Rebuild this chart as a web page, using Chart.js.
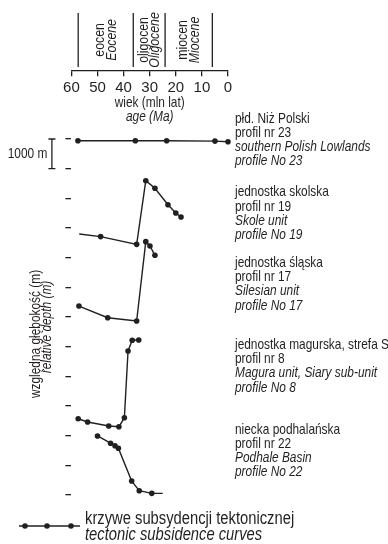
<!DOCTYPE html>
<html>
<head>
<meta charset="utf-8">
<script src="https://cdn.jsdelivr.net/npm/chart.js@4/dist/chart.umd.min.js"></script>
<style>
  html, body { margin: 0; padding: 0; background: #fff; }
  canvas { display: block; }
</style>
</head>
<body>
<canvas id="chart" width="388" height="544"></canvas>
<script>
// ---- data -------------------------------------------------------------
// age axis (Ma), drawn reversed: 60 on the left, 0 on the right
const ageTicks = [60, 50, 40, 30, 20, 10, 0];
// relative depth axis (m): one tick every 1000 m
const depthTicks = [0, 1000, 2000, 3000, 4000, 5000, 6000, 7000, 8000, 9000, 10000, 11000, 12000];

// epoch boundaries (Ma) and epoch names
const epochBounds = [57.4, 36.3, 24.1, 6.0];
const epochPl = ['eocen', 'oligocen', 'miocen'];
const epochEn = ['Eocene', 'Oligocene', 'Miocene'];

// tectonic subsidence curves: age (Ma), relative depth (m), 1 = dot drawn
const p23Age   = [57.5, 35.5, 23.5, 5.0, 0.0];
const p23Depth = [60, 60, 60, 70, 90];
const p23Dots  = [1, 1, 1, 1, 1];

const p19Age   = [57.0, 48.8, 35.0, 31.5, 28.0, 23.0, 20.0, 18.0];
const p19Depth = [3200, 3290, 3550, 1405, 1660, 2215, 2495, 2630];
const p19Dots  = [0, 1, 1, 1, 1, 1, 1, 1];

const p17Age   = [57.1, 46.1, 35.0, 31.5, 29.9, 28.0];
const p17Depth = [5630, 6025, 6135, 3460, 3605, 3920];
const p17Dots  = [1, 1, 1, 1, 1, 1];

const p8Age    = [57.4, 53.8, 45.7, 41.8, 39.7, 38.3, 36.7, 34.2];
const p8Depth  = [9430, 9540, 9675, 9700, 9395, 7145, 6785, 6775];
const p8Dots   = [1, 1, 1, 1, 1, 1, 1, 1];

const p22Age   = [50.0, 45.0, 43.3, 42.0, 36.9, 34.0, 29.2, 25.0];
const p22Depth = [10010, 10255, 10340, 10425, 11530, 11855, 11945, 11945];
const p22Dots  = [1, 1, 1, 1, 1, 1, 1, 0];

// profile descriptions (Polish / English)
const profileLabels = [
  ['płd. Niż Polski', 'profil nr 23', 'southern Polish Lowlands', 'profile No 23'],
  ['jednostka skolska', 'profil nr 19', 'Skole unit', 'profile No 19'],
  ['jednostka śląska', 'profil nr 17', 'Silesian unit', 'profile No 17'],
  ['jednostka magurska, strefa Siar', 'profil nr 8', 'Magura unit, Siary sub-unit', 'profile No 8'],
  ['niecka podhalańska', 'profil nr 22', 'Podhale Basin', 'profile No 22']
];
const scaleBarLabel = '1000 m';
const legendPl = 'krzywe subsydencji tektonicznej';
const legendEn = 'tectonic subsidence curves';

// ---- styling / placement ----------------------------------------------
const INK = '#231f20';
const FONT = "'Liberation Sans', Arial, sans-serif";
const SQUEEZE = 0.82;                  // condensed lettering
const AXIS_AT = -2292;                 // depth value where the age axis sits
const EPOCH_TOP = -4250, EPOCH_BOTTOM = -2430;
const LABEL_ANCHORS = [-680, 1800, 4180, 6945, 9800];  // first line of each description
const LINE_H = 14.2;

function pts(ages, depths) {
  return ages.map((a, i) => ({ x: a, y: depths[i] }));
}
function curve(ages, depths, dots) {
  return {
    data: pts(ages, depths),
    showLine: true,
    borderColor: INK,
    borderWidth: 1.4,
    backgroundColor: INK,
    pointRadius: dots.map(d => d ? 2.8 : 0),
    pointBorderWidth: 0,
    pointHoverRadius: 0,
    tension: 0,
    clip: false
  };
}
function epochLine(age) {
  return {
    data: [{ x: age, y: EPOCH_TOP }, { x: age, y: EPOCH_BOTTOM }],
    showLine: true,
    borderColor: INK,
    borderWidth: 1.3,
    pointRadius: 0,
    clip: false
  };
}

// condensed text: squeeze horizontally around the anchor point
function text(ctx, s, x, y, size, italic, align, rot) {
  ctx.save();
  ctx.translate(x, y);
  if (rot) ctx.rotate(rot);
  ctx.scale(SQUEEZE, 1);
  ctx.font = (italic ? 'italic ' : '') + size + 'px ' + FONT;
  ctx.textAlign = align || 'left';
  ctx.textBaseline = 'middle';
  ctx.fillText(s, 0, 0);
  ctx.restore();
}

const annotations = {
  id: 'annotations',
  afterDatasetsDraw(chart) {
    const { ctx, chartArea, scales: { x, y } } = chart;
    ctx.save();
    ctx.fillStyle = INK;
    ctx.strokeStyle = INK;

    // age axis title
    const axisY = y.getPixelForValue(AXIS_AT);
    const midX = x.getPixelForValue(30);
    text(ctx, 'wiek (mln lat)', midX, axisY + 32, 14.5, false, 'center');
    text(ctx, 'age (Ma)', midX, axisY + 46, 14.5, true, 'center');

    // epoch names, rotated between the boundaries
    const epochMidY = (y.getPixelForValue(EPOCH_TOP) + y.getPixelForValue(EPOCH_BOTTOM)) / 2;
    for (let i = 0; i < epochPl.length; i++) {
      const cx = (x.getPixelForValue(epochBounds[i]) + x.getPixelForValue(epochBounds[i + 1])) / 2;
      text(ctx, epochPl[i], cx - 5.5, epochMidY, 15, false, 'center', -Math.PI / 2);
      text(ctx, epochEn[i], cx + 6, epochMidY, 15, true, 'center', -Math.PI / 2);
    }

    // depth axis title
    text(ctx, 'względna głębokość (m)', chartArea.left - 35.5, 334, 14.5, false, 'center', -Math.PI / 2);
    text(ctx, 'relative depth (m)', chartArea.left - 24.5, 327, 14.5, true, 'center', -Math.PI / 2);

    // 1000 m scale bar
    const barX = chartArea.left - 19.5;
    const b0 = y.getPixelForValue(0), b1 = y.getPixelForValue(1000);
    ctx.lineWidth = 1.3;
    ctx.beginPath();
    ctx.moveTo(barX, b0); ctx.lineTo(barX, b1);
    ctx.moveTo(barX - 3.5, b0); ctx.lineTo(barX + 3.5, b0);
    ctx.moveTo(barX - 3.5, b1); ctx.lineTo(barX + 3.5, b1);
    ctx.stroke();
    text(ctx, scaleBarLabel, barX - 4.5, (b0 + b1) / 2, 14.5, false, 'right');

    // profile descriptions
    const textX = chartArea.right + 7;
    profileLabels.forEach((lines, k) => {
      const top = y.getPixelForValue(LABEL_ANCHORS[k]);
      lines.forEach((s, j) => text(ctx, s, textX, top + j * LINE_H, 14.5, j >= 2, 'left'));
    });

    // legend
    const ly = 526;
    ctx.lineWidth = 1.4;
    ctx.beginPath();
    ctx.moveTo(19, ly); ctx.lineTo(80, ly);
    ctx.stroke();
    [25, 47, 71].forEach(px => {
      ctx.beginPath(); ctx.arc(px, ly, 2.8, 0, Math.PI * 2); ctx.fill();
    });
    text(ctx, legendPl, 85, 519, 18, false, 'left');
    text(ctx, legendEn, 85, 535, 18, true, 'left');

    ctx.restore();
  }
};

Chart.defaults.font.family = FONT;
Chart.defaults.color = INK;

new Chart(document.getElementById('chart'), {
  type: 'scatter',
  data: {
    datasets: [
      curve(p23Age, p23Depth, p23Dots),
      curve(p19Age, p19Depth, p19Dots),
      curve(p17Age, p17Depth, p17Dots),
      curve(p8Age, p8Depth, p8Dots),
      curve(p22Age, p22Depth, p22Dots),
      ...epochBounds.map(epochLine)
    ]
  },
  options: {
    responsive: false,
    animation: false,
    devicePixelRatio: 1,
    events: [],
    layout: { padding: { left: 65.4, right: 160, top: 8.5, bottom: 49 } },
    plugins: { legend: { display: false }, tooltip: { enabled: false } },
    scales: {
      x: {
        type: 'linear',
        axis: 'x',
        position: { y: AXIS_AT },
        reverse: true,
        min: 0,
        max: 60,
        afterBuildTicks: s => { s.ticks = ageTicks.map(v => ({ value: v })); },
        ticks: { font: { size: 15 }, color: INK, padding: 3 },
        grid: { drawOnChartArea: false, drawTicks: true, tickLength: 5, color: INK, lineWidth: 1.3 },
        border: { display: true, color: INK, width: 1.3 }
      },
      y: {
        type: 'linear',
        position: 'left',
        reverse: true,
        min: -4400,
        max: 12000,
        afterBuildTicks: s => { s.ticks = depthTicks.map(v => ({ value: v })); },
        ticks: { display: false },
        grid: { drawOnChartArea: false, drawTicks: true, tickLength: 6, color: INK, lineWidth: 1.3 },
        border: { display: false }
      }
    }
  },
  plugins: [annotations]
});
</script>
</body>
</html>
